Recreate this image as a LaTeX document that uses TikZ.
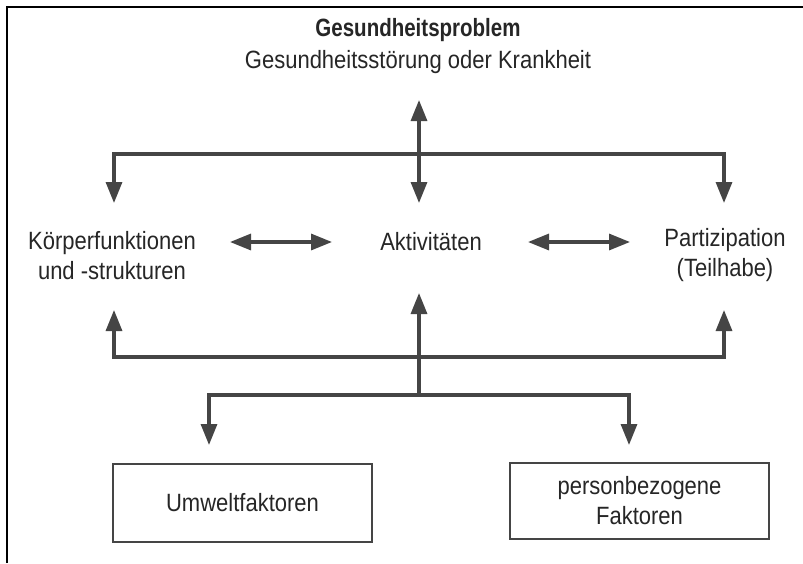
\documentclass[tikz,border=0pt]{standalone}
\usepackage{fontspec}
\setmainfont{Liberation Sans}[FakeStretch=0.88, BoldFeatures={FakeStretch=0.82}]
\usetikzlibrary{arrows.meta}
\definecolor{txt}{HTML}{262626}
\definecolor{ln}{HTML}{454545}
\tikzset{
  lbl/.style={text=txt, font=\fontsize{25}{30}\selectfont, align=center, inner sep=0pt},
  conn/.style={draw=ln, line width=3.2pt, -{Triangle[length=21pt,width=16pt]}},
  biconn/.style={draw=ln, line width=3.2pt, {Triangle[length=21pt,width=16pt]}-{Triangle[length=21pt,width=16pt]}},
  factorbox/.style={draw=ln, line width=2.8pt, minimum width=259pt, text=txt,
    font=\fontsize{25}{30}\selectfont, align=center, inner sep=0pt}
}
\begin{document}
\begin{tikzpicture}[x=1pt,y=-1pt]
\useasboundingbox (0,0) rectangle (803,563);
\fill[white] (0,0) rectangle (803,563);
% frame
\draw[black, line width=2.8pt] (7,563) -- (7,7) -- (803,7);

% texts
\node[lbl, font=\fontsize{25}{30}\selectfont\bfseries] (title) at (418,30) {Gesundheitsproblem};
\node[lbl] (sub) at (418,62) {Gesundheitsstörung oder Krankheit};
\node[lbl] (koerper) at (112,256) {Körperfunktionen\\und -strukturen};
\node[lbl] (akt) at (431,242) {Aktivitäten};
\node[lbl] (part) at (725,255) {Partizipation\\(Teilhabe)};
\node[factorbox, minimum height=78pt] (umwelt) at (242.5,503) {Umweltfaktoren};
\node[factorbox, minimum height=76pt] (person) at (639.5,501) {personbezogene\\Faktoren};

% upper distribution
\coordinate (ctop) at (419,100);
\coordinate (cbot) at (419,203);
\coordinate (hl) at (114,154);
\coordinate (hr) at (724,154);
\coordinate (kin) at (114,203);
\coordinate (pin) at (724,203);
\draw[biconn] (ctop) -- (cbot);
\draw[conn] (hr) -- (hl) -- (kin);
\draw[conn] (hl) -- (hr) -- (pin);

% double arrows in the middle row
\coordinate (la) at (230,242);
\coordinate (lb) at (332,242);
\coordinate (ra) at (528,242);
\coordinate (rb) at (630,242);
\draw[biconn] (la) -- (lb);
\draw[biconn] (ra) -- (rb);

% lower collection
\coordinate (bl) at (114,357);
\coordinate (br) at (724,357);
\coordinate (kout) at (114,310);
\coordinate (pout) at (724,310);
\coordinate (cjoin) at (419,395);
\coordinate (aout) at (419,293);
\draw[conn] (br) -- (bl) -- (kout);
\draw[conn] (bl) -- (br) -- (pout);
\draw[conn] (cjoin) -- (aout);

% bottom distribution
\coordinate (ll) at (209,395);
\coordinate (lr) at (629,395);
\coordinate (uin) at (209,445);
\coordinate (pein) at (629,445);
\draw[conn] (lr) -- (ll) -- (uin);
\draw[conn] (ll) -- (lr) -- (pein);
\end{tikzpicture}
\end{document}
